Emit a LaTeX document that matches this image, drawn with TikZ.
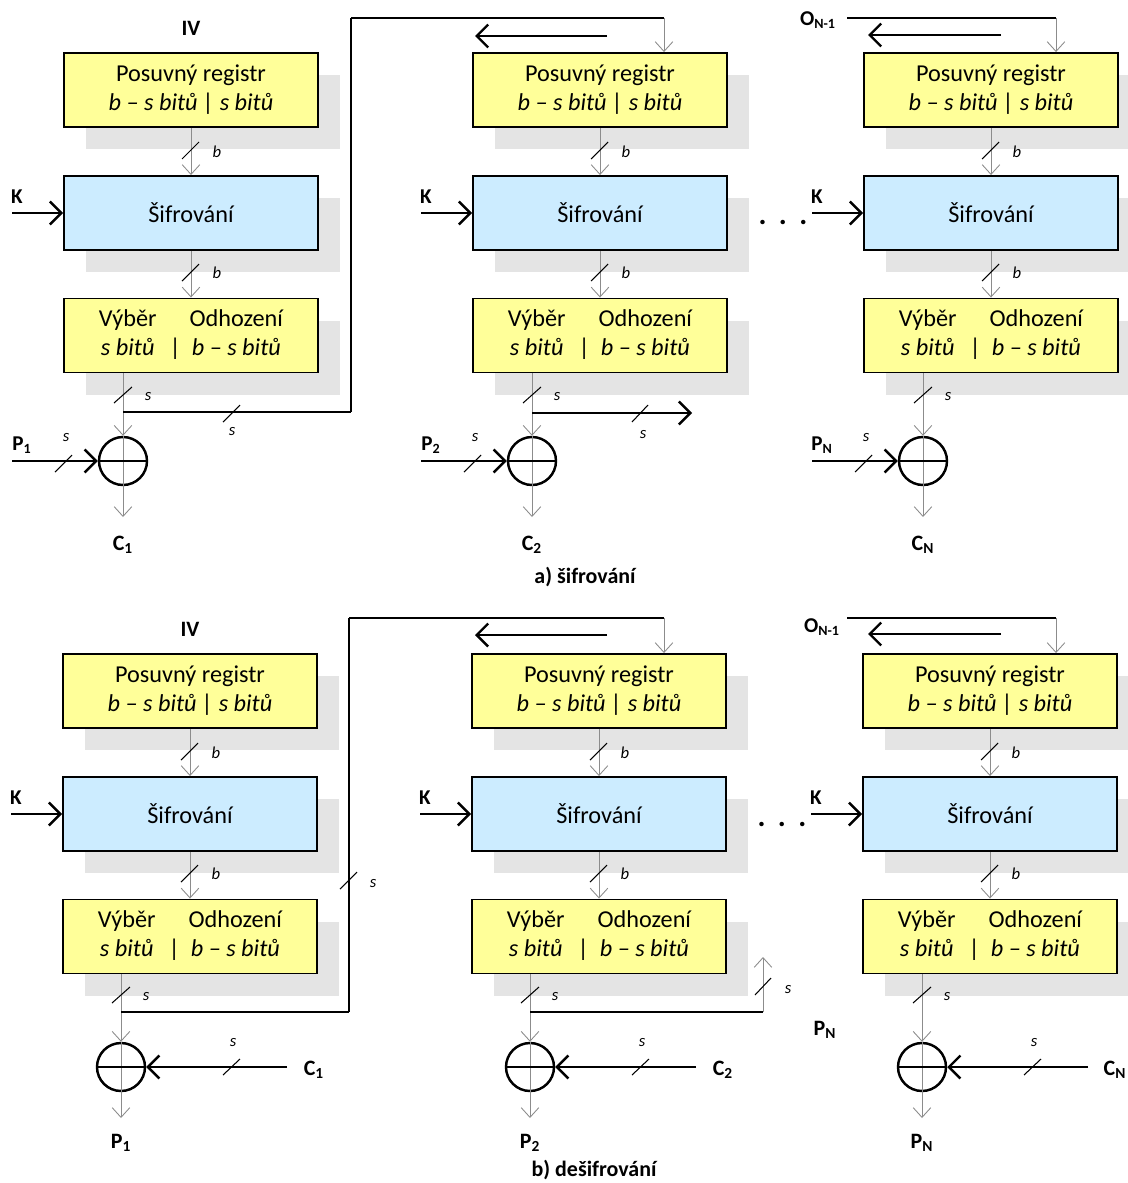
\documentclass[tikz,border=0pt]{standalone}
\usepackage{fontspec}
\setmainfont{Carlito}
\usetikzlibrary{arrows.meta}
\definecolor{boxyellow}{HTML}{FFFF99}
\definecolor{boxblue}{HTML}{CCECFF}
\definecolor{shadowgray}{HTML}{E4E4E4}
\definecolor{thingray}{HTML}{8C8C8C}
\tikzset{
 box/.style={draw=black, line width=1.1pt, minimum width=5.08cm, minimum height=1.48cm, align=center, font=\fontsize{13.8}{16.5}\selectfont, inner sep=0pt},
 regbox/.style={box, fill=boxyellow},
 encbox/.style={box, fill=boxblue},
 shadowbox/.style={fill=shadowgray},
 sig/.style={draw=thingray, line width=0.5pt, -{Straight Barb[length=5.5pt,width=10pt]}},
 bus/.style={draw=black, line width=1.4pt},
 busarrow/.style={bus, -{Straight Barb[length=6.5pt,width=13pt]}},
 thinline/.style={draw=black, line width=0.6pt},
 tick/.style={draw=black, line width=0.6pt},
 wl/.style={font=\fontsize{9.5}{11}\selectfont\itshape, inner sep=0pt},
 lbl/.style={font=\fontsize{12}{14}\selectfont\bfseries, inner sep=0pt},
 biglbl/.style={font=\fontsize{12.5}{14}\selectfont\bfseries, inner sep=0pt},
 dots/.style={font=\fontsize{17}{18}\selectfont\bfseries, inner sep=0pt, anchor=base},
 xorc/.style={circle, draw, line width=1.4pt, minimum size=0.96cm, inner sep=0pt},
}
\begin{document}
\begin{tikzpicture}[x=0.02cm,y=-0.02cm]
\useasboundingbox (0,0) rectangle (1128,1183);

% ---------- common blocks (both halves) ----------
\foreach \h/\dy/\dx in {a/0/0, b/601/-1} {
 \foreach \c/\cx in {1/191, 2/600, 3/991} {
  \pgfmathsetmacro\X{\cx+\dx}
  \fill[shadowbox] ({\X-105},{90+\dy-15}) rectangle ({\X+149},{90+\dy+59});
  \fill[shadowbox] ({\X-105},{213+\dy-15}) rectangle ({\X+149},{213+\dy+59});
  \fill[shadowbox] ({\X-105},{335.5+\dy-15}) rectangle ({\X+149},{335.5+\dy+59});
  \node[regbox] (pr\h\c) at (\X,{90+\dy}) {\rule{0pt}{4pt}Posuvný registr\\\textit{b – s bitů | s bitů}};
  \node[encbox] (si\h\c) at (\X,{213+\dy}) {Šifrování};
  \node[regbox] (vy\h\c) at (\X,{335.5+\dy}) {\rule{0pt}{4pt}\begin{tabular}{@{}c@{\hspace{7.5pt}}c@{\hspace{5pt}}c@{}}Výběr&&Odhození\\\textit{s bitů}&|&\textit{b – s bitů}\end{tabular}};
  \draw[sig] (pr\h\c) -- (si\h\c);
  \draw[tick] ({\X-9},{159+\dy}) -- ({\X+8},{142+\dy});
  \node[wl] (lbA\h\c) at ({\X+26},{152+\dy}) {b};
  \draw[sig] (si\h\c) -- (vy\h\c);
  \draw[tick] ({\X-9},{281+\dy}) -- ({\X+8},{264+\dy});
  \node[wl] (lbB\h\c) at ({\X+26},{273+\dy}) {b};
  \coordinate (kin\h\c) at ({\X-179},{213+\dy});
  \draw[busarrow] (kin\h\c) -- (si\h\c);
  \node[lbl] (k\h\c) at ({\X-174},{197+\dy}) {K};
 }
}

% ---------- a) encryption ----------
\node[biglbl] (iva) at (191,28) {IV};
\foreach \c/\xo/\sub in {1/123/1, 2/532/2, 3/923/N} {
  \node[xorc] (xa\c) at (\xo,461) {};
  \coordinate (voa\c) at (vya\c.south -| xa\c);
  \coordinate (outa\c) at (\xo,517);
  \draw[sig] (voa\c) -- (xa\c.north);
  \draw[sig] (xa\c.north) -- (outa\c);
  \draw[bus] (xa\c.west) -- (xa\c.east);
  \draw[tick] ({\xo-9},403) -- ({\xo+9},387);
  \node[wl] (lsa\c) at ({\xo+25},397) {s};
  \coordinate (pina\c) at ({\xo-111},461);
  \draw[busarrow] (pina\c) -- (xa\c.west);
  \draw[tick] ({\xo-68},472) -- ({\xo-51},455);
  \node[wl] (lpa\c) at ({\xo-57},438) {s};
  \node[lbl] (pa\c) at ({\xo-101},445) {P\textsubscript{\sub}};
  \node[biglbl] (ca\c) at (\xo,545) {C\textsubscript{\sub}};
}
% feedback column 1
\coordinate (spa1) at (123,412);
\coordinate (cna1) at (351,412);
\coordinate (cta1) at (351,18);
\coordinate (ra2) at (664,18);
\draw[bus] (spa1) -- (cna1);
\draw[thinline] (cna1) -- (cta1);
\draw[bus] (cta1) -- (ra2);
\draw[sig] (ra2) -- (ra2 |- pra2.north);
\draw[tick] (223,422) -- (240,405);
\node[wl] (lfa1) at (232,432) {s};
\coordinate (da2s) at (607,36);
\coordinate (da2e) at (475,36);
\draw[busarrow] (da2s) -- (da2e);
% column 2 forward
\coordinate (spa2) at (532,413);
\coordinate (fwa2) at (692,413);
\draw[busarrow] (spa2) -- (fwa2);
\draw[tick] (632,422) -- (648,405);
\node[wl] (lfa2) at (643,435) {s};
% column 3 input
\node[lbl] (ona) at (818,20) {O\textsubscript{N-1}};
\coordinate (ra3s) at (847,18);
\coordinate (ra3) at (1056,18);
\draw[bus] (ra3s) -- (ra3);
\draw[sig] (ra3) -- (ra3 |- pra3.north);
\coordinate (da3s) at (1001,35);
\coordinate (da3e) at (868,35);
\draw[busarrow] (da3s) -- (da3e);
\node[dots] (ella) at (783,224) {.\hspace{7pt}.\hspace{7pt}.};
\node[biglbl] (capa) at (585,577) {a) šifrování};

% ---------- b) decryption ----------
\node[biglbl] (ivb) at (190,629) {IV};
\foreach \c/\xo/\sub in {1/121/1, 2/530/2, 3/922/N} {
  \node[xorc] (xb\c) at (\xo,1067) {};
  \coordinate (vob\c) at (vyb\c.south -| xb\c);
  \coordinate (outb\c) at (\xo,1118);
  \draw[sig] (vob\c) -- (xb\c.north);
  \draw[sig] (xb\c.north) -- (outb\c);
  \draw[bus] (xb\c.west) -- (xb\c.east);
  \draw[tick] ({\xo-9},1003) -- ({\xo+9},987);
  \node[wl] (lsb\c) at ({\xo+25},997) {s};
  \coordinate (cinb\c) at ({\xo+166},1067);
  \draw[busarrow] (cinb\c) -- (xb\c.east);
  \draw[tick] ({\xo+102},1075) -- ({\xo+119},1059);
  \node[wl] (lcb\c) at ({\xo+112},1043) {s};
  \node[biglbl] (cb\c) at ({\xo+193},1070) {C\textsubscript{\sub}};
  \node[biglbl] (pb\c) at (\xo,1143) {P\textsubscript{\sub}};
}
% feedback column 1
\coordinate (spb1) at (121,1012);
\coordinate (cnb1) at (349,1012);
\coordinate (ctb1) at (349,618);
\coordinate (rb2) at (664,618);
\draw[bus] (spb1) -- (cnb1);
\draw[thinline] (cnb1) -- (ctb1);
\draw[bus] (ctb1) -- (rb2);
\draw[sig] (rb2) -- (rb2 |- prb2.north);
\draw[tick] (340,889) -- (357,872);
\node[wl] (lfb1) at (373,884) {s};
\coordinate (db2s) at (607,635);
\coordinate (db2e) at (475,635);
\draw[busarrow] (db2s) -- (db2e);
% column 2 feedback stub
\coordinate (spb2) at (530,1012);
\coordinate (cnb2) at (763,1012);
\coordinate (upb2) at (763,957);
\draw[bus] (spb2) -- (cnb2);
\draw[sig] (cnb2) -- (upb2);
\draw[tick] (755,995) -- (771,978);
\node[wl] (lfb2) at (788,990) {s};
\node[biglbl] (pnx) at (825,1030) {P\textsubscript{N}};
% column 3 input
\node[lbl] (onb) at (822,627) {O\textsubscript{N-1}};
\coordinate (rb3s) at (847,618);
\coordinate (rb3) at (1056,618);
\draw[bus] (rb3s) -- (rb3);
\draw[sig] (rb3) -- (rb3 |- prb3.north);
\coordinate (db3s) at (1001,634);
\coordinate (db3e) at (868,634);
\draw[busarrow] (db3s) -- (db3e);
\node[dots] (ellb) at (782,826) {.\hspace{7pt}.\hspace{7pt}.};
\node[biglbl] (capb) at (594,1170) {b) dešifrování};
\end{tikzpicture}
\end{document}
